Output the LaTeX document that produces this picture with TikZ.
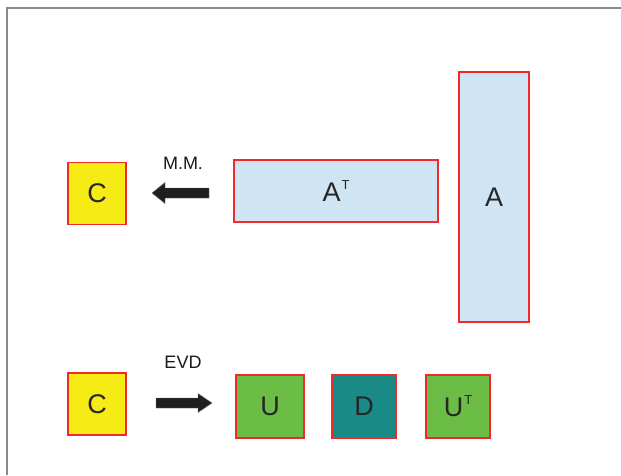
\documentclass[tikz,border=0pt]{standalone}
\usepackage{fontspec}
\setmainfont{Liberation Sans}
\definecolor{boxred}{HTML}{EE2A2A}
\definecolor{cyellow}{HTML}{F6EB14}
\definecolor{lblue}{HTML}{CFE5F3}
\definecolor{ugreen}{HTML}{6BBD45}
\definecolor{dteal}{HTML}{1A8A87}
\definecolor{framegray}{HTML}{8A8A8A}
\newcommand{\supT}{\kern1pt\raisebox{12pt}{\fontsize{13}{13}\selectfont T}}
\begin{document}
\begin{tikzpicture}[x=1pt,y=-1pt,
  mat/.style={draw=boxred, line width=1.4pt, inner sep=0pt, font=\fontsize{27}{27}\selectfont, text=black!85},
  lbl/.style={font=\fontsize{18}{18}\selectfont, text=black!90, inner sep=0pt},
  blockarrow/.style={fill=black!88, draw=black!55, line width=0.4pt}]
\useasboundingbox (0,0) rectangle (621,475);
\fill[white] (0,0) rectangle (621,475);
\draw[framegray, line width=1.3pt] (7,475) -- (7,8) -- (621,8);
% top row
\node[mat, fill=cyellow, minimum width=58pt, minimum height=62pt] (c1) at (97,193.5) {C};
\node[mat, fill=lblue, minimum width=204pt, minimum height=62pt] (at) at (336,191) {A\supT};
\node[mat, fill=lblue, minimum width=70pt, minimum height=250pt] (a) at (494,197) {A};
\node[lbl] (mm) at (183,163) {M.M.};
\fill[blockarrow] (209,188) -- (165,188) -- (165,182.5) -- (152,193) -- (165,203.5) -- (165,198) -- (209,198) -- cycle;
% bottom row
\node[mat, fill=cyellow, minimum width=58pt, minimum height=62pt] (c2) at (97,404) {C};
\node[lbl] (evd) at (183,362) {EVD};
\fill[blockarrow] (156,398) -- (198,398) -- (198,393.5) -- (212,403) -- (198,412.5) -- (198,408) -- (156,408) -- cycle;
\node[mat, fill=ugreen, minimum width=68pt, minimum height=63pt] (u) at (270,406.5) {U};
\node[mat, fill=dteal, minimum width=64pt, minimum height=63pt] (d) at (364,406.5) {D};
\node[mat, fill=ugreen, minimum width=64pt, minimum height=63pt] (ut) at (458,406.5) {U\supT};
\end{tikzpicture}
\end{document}
